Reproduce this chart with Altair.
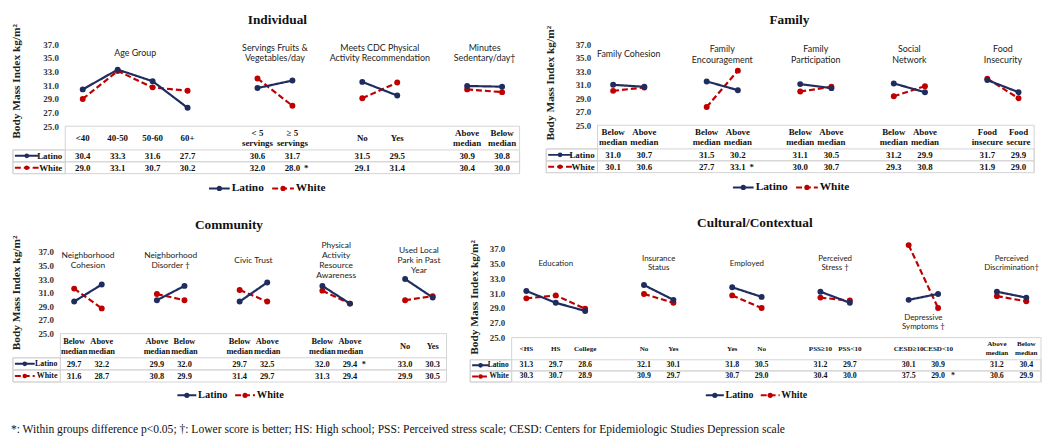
import altair as alt
import pandas as pd

SERIF = "Liberation Serif"
SANS = "Lato"
SERIES = ["Latino", "White"]
COLORS = ["#1f2c5e", "#c00000"]
DASHES = [[1, 0], [6, 3]]
GRID = "#d4d4d4"

# ---------------- Individual ----------------
IND_GROUPS = ["Age Group", "Servings Fruits &\nVegetables/day",
              "Meets CDC Physical\nActivity Recommendation", "Minutes\nSedentary/day\u2020"]
IND_CATS = [["<40", "40-50", "50-60", "60+"], ["< 5\nservings", "\u2265 5\nservings"],
            ["No", "Yes"], ["Above\nmedian", "Below\nmedian"]]
IND_LATINO = [[30.4, 33.3, 31.6, 27.7], [30.6, 31.7], [31.5, 29.5], [30.9, 30.8]]
IND_WHITE = [[29.0, 33.1, 30.7, 30.2], [32.0, 28.0], [29.1, 31.4], [30.4, 30.0]]
IND_SIG = [("White", 1, 1)]

# ---------------- Family ----------------
FAM_GROUPS = ["Family Cohesion", "Family\nEncouragement", "Family\nParticipation",
              "Social\nNetwork", "Food\nInsecurity"]
FAM_CATS = [["Below\nmedian", "Above\nmedian"], ["Below\nmedian", "Above\nmedian"],
            ["Below\nmedian", "Above\nmedian"], ["Below\nmedian", "Above\nmedian"],
            ["Food\ninsecure", "Food\nsecure"]]
FAM_LATINO = [[31.0, 30.7], [31.5, 30.2], [31.1, 30.5], [31.2, 29.9], [31.7, 29.9]]
FAM_WHITE = [[30.1, 30.6], [27.7, 33.1], [30.0, 30.7], [29.3, 30.8], [31.9, 29.0]]
FAM_SIG = [("White", 1, 1)]

# ---------------- Community ----------------
COM_GROUPS = ["Neighborhood\nCohesion", "Neighborhood\nDisorder \u2020", "Civic Trust",
              "Physical\nActivity\nResource\nAwareness", "Used Local\nPark in Past\nYear"]
COM_CATS = [["Below\nmedian", "Above\nmedian"], ["Above\nmedian", "Below\nmedian"],
            ["Below\nmedian", "Above\nmedian"], ["Below\nmedian", "Above\nmedian"],
            ["No", "Yes"]]
COM_LATINO = [[29.7, 32.2], [29.9, 32.0], [29.7, 32.5], [32.0, 29.4], [33.0, 30.3]]
COM_WHITE = [[31.6, 28.7], [30.8, 29.9], [31.4, 29.7], [31.3, 29.4], [29.9, 30.5]]
COM_SIG = [("Latino", 3, 1)]

# ---------------- Cultural/Contextual ----------------
CUL_GROUPS = ["Education", "Insurance\nStatus", "Employed", "Perceived\nStress \u2020",
              "Depressive\nSymptoms \u2020", "Perceived\nDiscrimination\u2020"]
CUL_CATS = [["<HS", "HS", "College"], ["No", "Yes"], ["Yes", "No"],
            ["PSS\u226510", "PSS<10"], ["CESD\u226510", "CESD<10"],
            ["Above\nmedian", "Below\nmedian"]]
CUL_LATINO = [[31.3, 29.7, 28.6], [32.1, 30.1], [31.8, 30.5], [31.2, 29.7], [30.1, 30.9], [31.2, 30.4]]
CUL_WHITE = [[30.3, 30.7, 28.9], [30.9, 29.7], [30.7, 29.0], [30.4, 30.0], [37.5, 29.0], [30.6, 29.9]]
CUL_SIG = [("White", 4, 1)]

Y_TICKS = [25, 27, 29, 31, 33, 35, 37]
Y_TITLE = "Body Mass Index kg/m\u00b2"
FOOTNOTE = ("*: Within groups difference p<0.05; \u2020: Lower score is better; HS: High school; "
            "PSS: Perceived stress scale; CESD:  Centers for Epidemiologic Studies Depression scale")

# layout / style parameters per panel (not data)
LAYOUT = {
    "Individual": dict(step=35.4, left_px=53, ppu=6.92, ytop=37.6, table_h=48, legend_h=30, label_y=35.7,
                       title_bmi=31.65, tfont=9, hfont=9, rfont=9, sym=24, lfont=11.5, gfont=9,
                       title_offset=-3, title_dx=12, sig_dx=14),
    "Family": dict(step=31.6, left_px=52, ppu=6.83, ytop=37.6, table_h=48, legend_h=30, label_y=35.5,
                   title_bmi=31.3, tfont=9, hfont=9, rfont=9, sym=24, lfont=11.5, gfont=9,
                   title_offset=-1, title_dx=0, sig_dx=14),
    "Community": dict(step=27.9, left_px=48, ppu=6.875, ytop=37.6, table_h=49, legend_h=27, label_y=35.8,
                      title_bmi=31.0, tfont=8.5, hfont=8.5, rfont=8, sym=20, lfont=10.5, gfont=8.5,
                      title_offset=4, title_dx=0, sig_dx=14),
    "Cultural/Contextual": dict(step=29.8, left_px=42, ppu=7.5, ytop=37.15, table_h=45, legend_h=27,
                                label_y=35.0, title_bmi=30.5, tfont=8, hfont=7.2, rfont=7.5, sym=17,
                                lfont=10, gfont=8, title_offset=10, title_dx=0, sig_dx=15),
}

color_enc = alt.Color("series:N", scale=alt.Scale(domain=SERIES, range=COLORS), legend=None)
dash_enc = alt.StrokeDash("series:N", scale=alt.Scale(domain=SERIES, range=DASHES), legend=None)


def nlines(t):
    return t.count("\n") + 1


def panel(title, groups, cats, latino, white, sig):
    L = LAYOUT[title]
    step = L["step"]
    slots, s = [], 0
    for g in cats:
        slots.append([s + i for i in range(len(g))])
        s += len(g) + 1
    last = slots[-1][-1]
    sep = -0.5
    x0 = sep - L["left_px"] / step
    x1 = last + 0.5
    width = round((x1 - x0) * step)
    xsc = alt.Scale(domain=[x0, x1], nice=False, zero=False)
    ytop = L["ytop"]
    ppu = L["ppu"]
    plot_h = round((ytop - 25) * ppu)

    # ---------- plot ----------
    pts = []
    for gi in range(len(cats)):
        for ci, slot in enumerate(slots[gi]):
            pts.append({"series": "White", "grp": gi, "x": slot, "bmi": white[gi][ci]})
            pts.append({"series": "Latino", "grp": gi, "x": slot, "bmi": latino[gi][ci]})
    pts = pd.DataFrame(pts)
    glh = L["gfont"] + 1.5
    labs = []
    for gi, g in enumerate(groups):
        allv = latino[gi] + white[gi]
        centre = L["label_y"] if max(allv) < 36 else min(allv) - 1.95
        first = centre + (nlines(g) - 1) * glh / 2 / ppu
        labs.append({"label": g, "x": sum(slots[gi]) / len(slots[gi]), "bmi": first})
    labs = pd.DataFrame(labs)

    O = L["left_px"] - 5
    y_enc = alt.Y("bmi:Q", scale=alt.Scale(domain=[25, ytop], nice=False, zero=False),
                  axis=alt.Axis(values=Y_TICKS, format=".1f", title=Y_TITLE, grid=False, domain=False,
                                ticks=False, tickSize=0, labelPadding=2, offset=-O,
                                labelFont=SERIF, labelFontSize=9, labelFontWeight="bold", labelColor="#333",
                                titleFont=SERIF, titleFontSize=11.5, titleFontWeight="bold", titleColor="#222",
                                titleAngle=270, titleX=4 - O, titleY=(ytop - L["title_bmi"]) * ppu,
                                titleAlign="center", titleBaseline="middle"))
    x_enc = alt.X("x:Q", scale=xsc, axis=None)
    lines = alt.Chart(pts).mark_line(strokeWidth=2.2).encode(
        x=x_enc, y=y_enc, color=color_enc, strokeDash=dash_enc, detail="grp:N")
    dots = alt.Chart(pts).mark_circle(size=36, opacity=1).encode(x=x_enc, y=y_enc, color=color_enc)
    labels = alt.Chart(labs).mark_text(font=SANS, fontSize=L["gfont"], lineBreak="\n", align="center",
                                       baseline="middle", color="#222", lineHeight=glh).encode(
        x=x_enc, y=y_enc, text="label:N")
    plot = alt.layer(lines, dots, labels).properties(width=width, height=plot_h)

    # ---------- table ----------
    band_h = L["table_h"] / 4
    row_sc = alt.Scale(type="band", domain=["h1", "h2", "Latino", "White"], paddingInner=0, paddingOuter=0)

    def yr(bp):
        return alt.Y("row:N", scale=row_sc, axis=None, bandPosition=bp)

    xt = alt.X("x:Q", scale=xsc, axis=None)
    row_box = pd.DataFrame([{"row": r, "x": x0, "x2": x1} for r in SERIES])
    left_box = pd.DataFrame([{"row": r, "x": x0, "x2": sep} for r in SERIES])
    hdr_top = pd.DataFrame([{"row": "h1", "x": sep, "x2": x1}])
    vlines = pd.DataFrame([{"x": sep}, {"x": x1}])
    hdr = pd.DataFrame([{"x": slot, "row": "h1", "text": c, "n": nlines(c)}
                        for gi in range(len(cats)) for slot, c in zip(slots[gi], cats[gi])])
    vals = pd.DataFrame([{"x": slot, "row": ser, "text": f"{v:.1f}"}
                         for ser, arr in (("Latino", latino), ("White", white))
                         for gi in range(len(cats)) for slot, v in zip(slots[gi], arr[gi])])
    sigs = pd.DataFrame([{"x": slots[gi][ci], "row": ser, "text": "*"} for ser, gi, ci in sig])
    f = L["sym"]
    rlab = pd.DataFrame([{"x": sep - 3 / step, "row": r, "text": r} for r in SERIES])
    rsym = pd.DataFrame([{"x": x0 + 2 / step, "x2": x0 + (2 + f) / step, "row": r, "series": r} for r in SERIES])
    rdot = pd.DataFrame([{"x": x0 + (2 + f / 2) / step, "row": r, "series": r} for r in SERIES])

    txt = dict(font=SERIF, fontWeight="bold", fontSize=L["tfont"], color="#111", baseline="middle")
    htxt = dict(txt, fontSize=L["hfont"])
    hlh = L["hfont"] + 1.5
    t_layers = [
        alt.Chart(row_box).mark_rect(fillOpacity=0, stroke=GRID, strokeWidth=1).encode(
            x=xt, x2="x2:Q", y=alt.Y("row:N", scale=row_sc, axis=None)),
        alt.Chart(left_box).mark_rect(fillOpacity=0, stroke=GRID, strokeWidth=1).encode(
            x=xt, x2="x2:Q", y=alt.Y("row:N", scale=row_sc, axis=None)),
        alt.Chart(hdr_top).mark_rule(color=GRID, strokeWidth=1).encode(x=xt, x2="x2:Q", y=yr(0)),
        alt.Chart(vlines).mark_rule(color=GRID, strokeWidth=1).encode(x=xt),
    ]
    for n in sorted(hdr["n"].unique()):
        sub = hdr[hdr["n"] == n]
        bp = 1 - (n - 1) * hlh / 2 / band_h
        t_layers.append(alt.Chart(sub).mark_text(lineBreak="\n", lineHeight=hlh, **htxt).encode(
            x=xt, y=yr(bp), text="text:N"))
    t_layers += [
        alt.Chart(vals).mark_text(**txt).encode(x=xt, y=yr(0.5), text="text:N"),
        alt.Chart(sigs).mark_text(dx=L["sig_dx"], **txt).encode(x=xt, y=yr(0.5), text="text:N"),
        alt.Chart(rlab).mark_text(align="right", font=SERIF, fontWeight="bold", fontSize=L["rfont"],
                                  color="#111", baseline="middle").encode(x=xt, y=yr(0.5), text="text:N"),
        alt.Chart(rsym).mark_rule(strokeWidth=2).encode(x=xt, x2="x2:Q", y=yr(0.5),
                                                        color=color_enc, strokeDash=dash_enc),
        alt.Chart(rdot).mark_circle(size=22, opacity=1).encode(x=xt, y=yr(0.5), color=color_enc),
    ]
    table = alt.layer(*t_layers).properties(width=width, height=L["table_h"])

    # ---------- legend ----------
    c = (x0 + x1) / 2
    k = L["lfont"] / 11.5
    lg_lines = pd.DataFrame([
        {"series": "Latino", "x": c + (-58 * k) / step, "x2": c + (-37 * k) / step},
        {"series": "White", "x": c + (6 * k) / step, "x2": c + (28 * k) / step}])
    lg_dots = pd.DataFrame([
        {"series": "Latino", "x": c + (-47.5 * k) / step},
        {"series": "White", "x": c + (17 * k) / step}])
    lg_text = pd.DataFrame([
        {"series": "Latino", "x": c + (-35 * k) / step},
        {"series": "White", "x": c + (30 * k) / step}])
    yl = alt.value(L["legend_h"] / 2)
    legend = alt.layer(
        alt.Chart(lg_lines).mark_rule(strokeWidth=2).encode(x=xt, x2="x2:Q", y=yl,
                                                            color=color_enc, strokeDash=dash_enc),
        alt.Chart(lg_dots).mark_circle(size=28, opacity=1).encode(x=xt, y=yl, color=color_enc),
        alt.Chart(lg_text).mark_text(font=SERIF, fontWeight="bold", fontSize=L["lfont"], color="#111",
                                     align="left", baseline="middle").encode(x=xt, y=yl, text="series:N"),
    ).properties(width=width, height=L["legend_h"])

    return alt.vconcat(plot, table, legend, spacing=0, bounds="flush",
                       title=alt.TitleParams(title, font=SERIF, fontSize=13.5, fontWeight="bold",
                                             anchor="middle", offset=L["title_offset"], dx=L["title_dx"],
                                             color="#111"))


p1 = panel("Individual", IND_GROUPS, IND_CATS, IND_LATINO, IND_WHITE, IND_SIG)
p2 = panel("Family", FAM_GROUPS, FAM_CATS, FAM_LATINO, FAM_WHITE, FAM_SIG)
p3 = panel("Community", COM_GROUPS, COM_CATS, COM_LATINO, COM_WHITE, COM_SIG)
p4 = panel("Cultural/Contextual", CUL_GROUPS, CUL_CATS, CUL_LATINO, CUL_WHITE, CUL_SIG)

row1 = alt.hconcat(p1, p2, spacing=23)
row2 = alt.hconcat(p3, p4, spacing=20)
chart = alt.vconcat(row1, row2, spacing=13).properties(
    title=alt.TitleParams(FOOTNOTE, orient="bottom", anchor="start", font=SERIF, fontSize=11.7,
                          fontWeight="normal", offset=16, color="#111")
).configure(padding={"left": 2, "top": 2, "right": 0, "bottom": 0}).configure_view(stroke=None)

chart.save("out.html", embed_options={"renderer": "svg", "actions": False})
